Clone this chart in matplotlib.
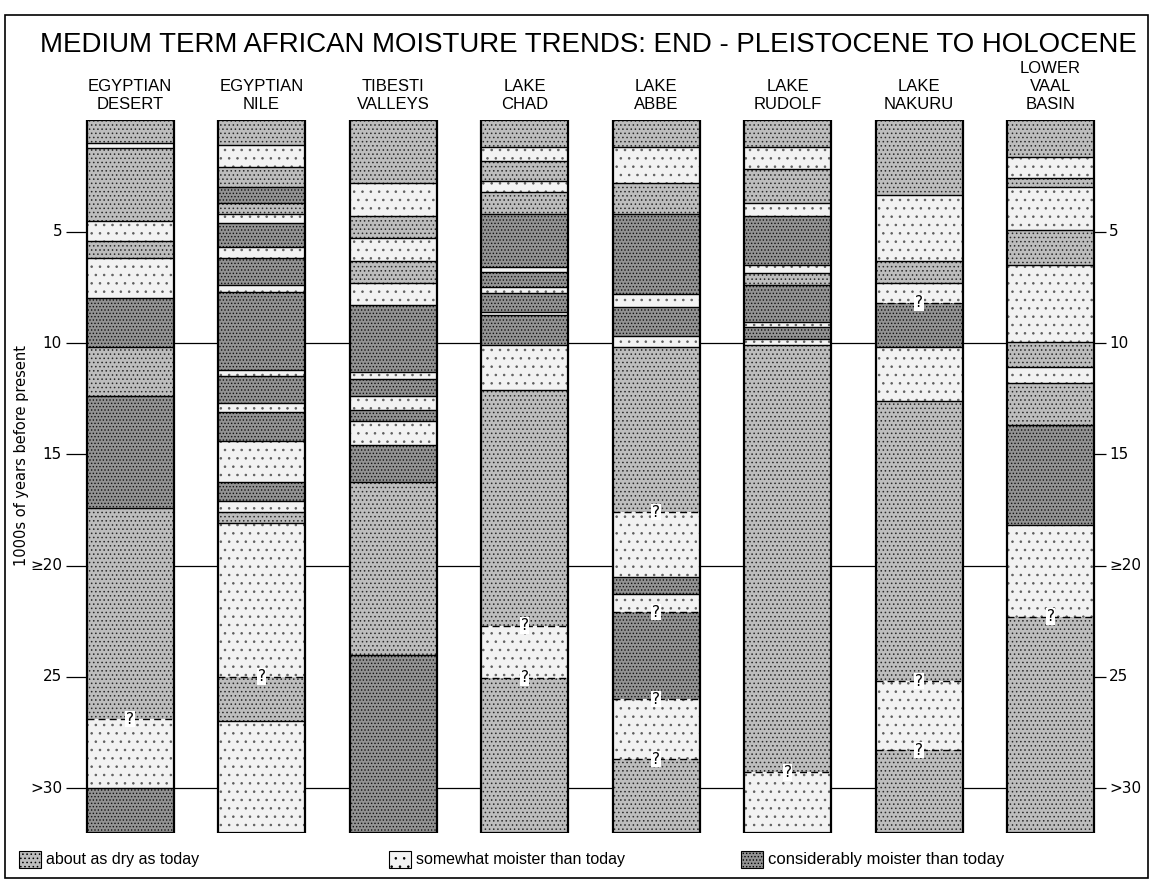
import numpy as np
import matplotlib.pyplot as plt
from matplotlib.patches import Rectangle

plt.rcParams['font.family'] = ['Liberation Sans', 'DejaVu Sans']
plt.rcParams['hatch.linewidth'] = 0.6

W, H = 1153, 888

# columns (sites) left to right
sites = ['EGYPTIAN\nDESERT', 'EGYPTIAN\nNILE', 'TIBESTI\nVALLEYS', 'LAKE\nCHAD',
         'LAKE\nABBE', 'LAKE\nRUDOLF', 'LAKE\nNAKURU', 'LOWER\nVAAL\nBASIN']

# band edges in 1000s of years before present, and the class of each band
# 0 = about as dry as today, 1 = somewhat moister, 2 = considerably moister
egypt_desert_edges = [0, 1.0, 1.25, 4.5, 5.4, 6.2, 8.0, 10.2, 12.4, 17.4, 26.9, 30.0, 32]
egypt_desert_class = [0, 1, 0, 1, 0, 1, 2, 0, 2, 0, 1, 2]
egypt_nile_edges = [0, 1.1, 2.1, 3.0, 3.7, 4.2, 4.6, 5.7, 6.2, 7.4, 7.7, 11.2, 11.5, 12.7,
                    13.1, 14.4, 16.25, 17.1, 17.6, 18.1, 25.0, 27.0, 32]
egypt_nile_class = [0, 1, 0, 2, 0, 1, 2, 1, 2, 1, 2, 1, 2, 1, 2, 1, 2, 1, 0, 1, 0, 1]
tibesti_edges = [0, 2.8, 4.3, 5.3, 6.3, 7.3, 8.3, 11.3, 11.6, 12.4, 13.0, 13.5, 14.6, 16.25, 24.0, 32]
tibesti_class = [0, 1, 0, 1, 0, 1, 2, 1, 2, 1, 2, 1, 2, 0, 2]
chad_edges = [0, 1.2, 1.8, 2.7, 3.2, 4.2, 6.6, 6.8, 7.5, 7.75, 8.6, 8.75, 10.1, 12.1, 22.7, 25.05, 32]
chad_class = [0, 1, 0, 1, 0, 2, 1, 2, 1, 2, 1, 2, 1, 0, 1, 0]
abbe_edges = [0, 1.2, 2.8, 4.2, 7.8, 8.4, 9.7, 10.2, 17.6, 20.5, 21.3, 22.1, 26.0, 28.7, 32]
abbe_class = [0, 1, 0, 2, 1, 2, 1, 0, 1, 2, 1, 2, 1, 0]
rudolf_edges = [0, 1.2, 2.2, 3.7, 4.3, 6.5, 6.85, 7.4, 9.05, 9.3, 9.8, 10.1, 29.3, 32]
rudolf_class = [0, 1, 0, 1, 2, 1, 0, 2, 1, 2, 1, 0, 1]
nakuru_edges = [0, 3.35, 6.3, 7.3, 8.2, 10.2, 12.6, 25.2, 28.3, 32]
nakuru_class = [0, 1, 0, 1, 2, 1, 0, 1, 0]
vaal_edges = [0, 1.65, 2.6, 3.0, 4.9, 6.5, 9.95, 11.1, 11.8, 13.7, 18.2, 22.3, 32]
vaal_class = [0, 1, 0, 1, 0, 1, 0, 1, 0, 2, 1, 0]

# boundaries marked with "?"
uncertain = [[26.9], [25.0], [], [22.7, 25.05], [17.6, 22.1, 26.0, 28.7],
             [29.3], [8.2, 25.2, 28.3], [22.3]]

all_edges = [egypt_desert_edges, egypt_nile_edges, tibesti_edges, chad_edges,
             abbe_edges, rudolf_edges, nakuru_edges, vaal_edges]
all_class = [egypt_desert_class, egypt_nile_class, tibesti_class, chad_class,
             abbe_class, rudolf_class, nakuru_class, vaal_class]

legend_labels = ['about as dry as today', 'somewhat moister than today',
                 'considerably moister than today']
yticks = [5, 10, 15, 20, 25, 30]
ytick_labels = ['5', '10', '15', '\u226520', '25', '>30']

face = ['#bdbdbd', '#f2f2f2', '#939393']
dotc = ['#2a2a2a', '#5e5e5e', '#121212']
hatches = ['....', '..', '.....']

# pixel helpers
x0px, dxpx = 130, 131.5
def px(x):
    return (x - x0px) / dxpx

fig = plt.figure(figsize=(W / 100, H / 100), dpi=100)
ax = fig.add_axes([0, 1 - 832.5 / H, 1, 712 / H])
ax.set_xlim(px(0), px(W))
ax.set_ylim(32, 0)
ax.axis('off')

bw = 87 / dxpx
for i, (ed, cl) in enumerate(zip(all_edges, all_class)):
    for j, c in enumerate(cl):
        ax.bar(i, ed[j + 1] - ed[j], bottom=ed[j], width=bw, color=face[c],
               edgecolor=dotc[c], hatch=hatches[c], linewidth=0, zorder=2)
    for e in ed[1:-1]:
        if e in uncertain[i]:
            ax.hlines(e, i - bw / 2, i + bw / 2, color='k', lw=1,
                      linestyles=(0, (5, 3)), zorder=3)
            ax.text(i, e, '?', ha='center', va='center', fontsize=11,
                    family='DejaVu Sans', zorder=4,
                    bbox=dict(boxstyle='square,pad=0.05', fc='white', ec='none'))
        else:
            ax.hlines(e, i - bw / 2, i + bw / 2, color='k', lw=1, zorder=3)
    ax.add_patch(Rectangle((i - bw / 2, 0), bw, 32, fill=False, lw=1.6,
                           ec='k', zorder=5))
    ax.text(i, -0.4, sites[i], ha='center', va='bottom', fontsize=12,
            linespacing=1.25, clip_on=False)

# time lines across gaps and tick marks
for t, lab in zip(yticks, ytick_labels):
    if t % 10 == 0:
        ax.hlines(t, px(66), px(1106), color='k', lw=0.9, zorder=0)
    else:
        ax.hlines(t, px(66), px(86), color='k', lw=0.9, zorder=0)
        ax.hlines(t, px(1093), px(1106), color='k', lw=0.9, zorder=0)
    ax.text(px(62), t, lab, ha='right', va='center', fontsize=11, family='DejaVu Sans')
    ax.text(px(1109), t, lab, ha='left', va='center', fontsize=11, family='DejaVu Sans')

fig.text(22 / W, 1 - 455 / H, '1000s of years before present', rotation=90,
         ha='center', va='center', fontsize=10.5, family='DejaVu Sans')

fig.text(588 / W, 1 - 45 / H,
         'MEDIUM TERM AFRICAN MOISTURE TRENDS: END - PLEISTOCENE TO HOLOCENE',
         ha='center', va='center', fontsize=19.9)

# legend
leg_x = [19, 389, 741]
leg_fs = [11.5, 11.5, 12]
for k, (lx, lab) in enumerate(zip(leg_x, legend_labels)):
    fig.patches.append(Rectangle((lx / W, 1 - 868 / H), 22 / W, 17 / H,
                                 transform=fig.transFigure, fc=face[k], ec='k',
                                 hatch=hatches[k], lw=0.8))
    fig.text((lx + 27) / W, 1 - 859 / H, lab, ha='left', va='center', fontsize=leg_fs[k])

# outer frame
fig.patches.append(Rectangle((5 / W, 1 - 878 / H), 1143 / W, 863 / H,
                             transform=fig.transFigure, fill=False, ec='k', lw=1.2))

fig.savefig('out.png', dpi=100, facecolor='white')
